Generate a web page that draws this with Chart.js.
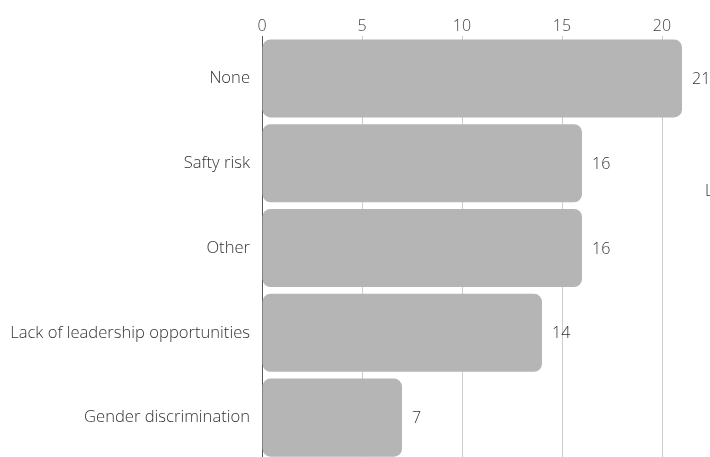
<!DOCTYPE html>
<html>
<head>
<meta charset="utf-8">
<script src="https://cdn.jsdelivr.net/npm/chart.js@4/dist/chart.umd.min.js"></script>
<style>
    html, body { margin: 0; padding: 0; overflow: hidden; background: #fff; }
</style>
</head>
<body>
<canvas id="barChart" width="710" height="482"></canvas>
<script>
const categories = ['None', 'Safty risk', 'Other', 'Lack of leadership opportunities', 'Gender discrimination'];
const counts = [21, 16, 16, 14, 7];
const tickValues = [0, 5, 10, 15, 20];

const FONT = "'Open Sans', sans-serif";

// Value labels at the end of each bar, plus the clipped legend text on the right
const barLabels = {
    id: 'barLabels',
    afterDatasetsDraw(chart) {
        const ctx = chart.ctx;
        const meta = chart.getDatasetMeta(0);
        ctx.save();
        ctx.font = '300 16px ' + FONT;
        ctx.fillStyle = '#333';
        ctx.textAlign = 'left';
        ctx.textBaseline = 'middle';
        meta.data.forEach((bar, i) => {
            ctx.fillText(String(counts[i]), bar.x + 10, bar.y + 1);
        });
        ctx.fillText(chart.data.datasets[0].label, 705, 191);
        ctx.restore();
    }
};

new Chart(document.getElementById('barChart'), {
    type: 'bar',
    data: {
        labels: categories,
        datasets: [{
            label: 'Label',
            data: counts,
            backgroundColor: '#b5b5b5',
            borderWidth: 0,
            borderRadius: 8,
            borderSkipped: false,
            barPercentage: 0.92,
            categoryPercentage: 1
        }]
    },
    options: {
        indexAxis: 'y',
        responsive: false,
        animation: false,
        layout: { padding: { left: 0, right: 8, top: 0, bottom: 0 } },
        plugins: {
            legend: { display: false },
            tooltip: { enabled: false }
        },
        scales: {
            x: {
                position: 'top',
                min: 0,
                max: 22,
                afterFit: (scale) => { scale.height = 36; },
                afterBuildTicks: (scale) => {
                    scale.ticks = tickValues.map(v => ({ value: v }));
                },
                grid: { color: '#cccccc', drawTicks: false },
                border: { display: false },
                ticks: {
                    padding: 0,
                    color: '#444',
                    font: { family: FONT, size: 16, weight: '300' }
                }
            },
            y: {
                afterFit: (scale) => { scale.width = 262; },
                grid: { display: false, drawTicks: false },
                border: { display: true, color: '#555', width: 1 },
                ticks: {
                    padding: 12,
                    color: '#333',
                    font: { family: FONT, size: 16.6, weight: '300' }
                }
            }
        }
    },
    plugins: [barLabels]
});
</script>
</body>
</html>
